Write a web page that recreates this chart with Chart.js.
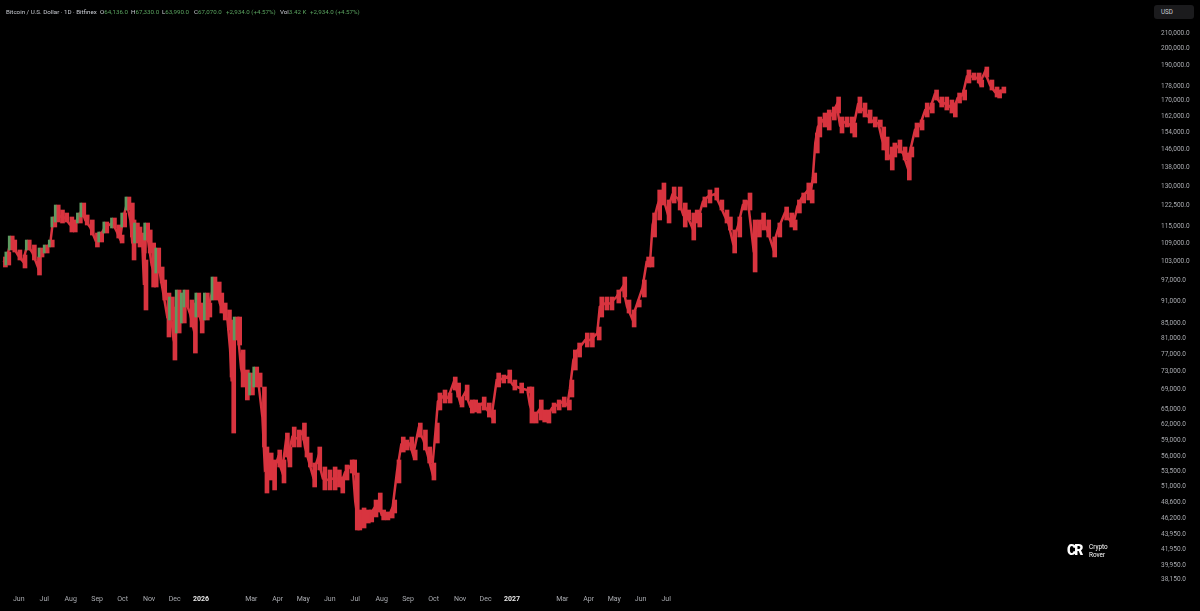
<!DOCTYPE html>
<html>
<head>
<meta charset="utf-8">
<script src="https://cdn.jsdelivr.net/npm/chart.js@4"></script>
<style>
  html, body { margin:0; padding:0; background:#000; }
  #wrap { position:relative; width:1200px; height:611px; background:#000; overflow:hidden; }
  #wrap canvas { position:absolute; left:0; top:0; }
  .hd { position:absolute; top:8px; font-family:Roboto, "Liberation Sans", sans-serif; font-size:6.2px; color:#c9ccd3; white-space:nowrap; }
  .hd b { font-weight:normal; color:#5aa35f; }
  #usd { position:absolute; left:1154px; top:5px; width:40px; height:14px; background:#1b1b1d; border-radius:3px;
         font-family:Roboto, sans-serif; font-size:6.3px; color:#c9ccd3; line-height:14px; text-indent:7px; }
  #logo { position:absolute; left:1067px; top:542px; color:#fff; font-family:Roboto, sans-serif; }
  #logo .ic { position:absolute; left:0; top:0; font-weight:900; font-size:14px; letter-spacing:-2px; line-height:16px; }
  #logo .tx { position:absolute; left:22px; top:1px; font-size:6.4px; line-height:8px; }
</style>
</head>
<body>
<div id="wrap">
  <canvas id="myChart"></canvas>
  <div class="hd" style="left:6px">Bitcoin / U.S. Dollar · 1D · Bitfinex</div>
  <div class="hd" style="left:100px">O<b>64,136.0</b></div>
  <div class="hd" style="left:131px">H<b>67,330.0</b></div>
  <div class="hd" style="left:162px">L<b>63,990.0</b></div>
  <div class="hd" style="left:194px">C<b>67,070.0</b></div>
  <div class="hd" style="left:226px"><b>+2,934.0 (+4.57%)</b></div>
  <div class="hd" style="left:280px">Vol<b>3.42 K</b></div>
  <div class="hd" style="left:310px"><b>+2,934.0 (+4.57%)</b></div>
  <div id="usd">USD</div>
  <div id="logo"><div class="ic">CR</div><div class="tx">Crypto<br>Rover</div></div>
</div>
<script>
(()=>{
    // days counted from 2026-01-01 (negative = 2025)
    const days = [-232,-228,-224,-221,-215,-209,-204,-198,-192,-189,-183,-177,-174,-170,-165,-160,-154,-150,-144,-140,
        -136,-130,-124,-119,-113,-104,-99,-95,-92,-87,-83,-81,-77,-74,-69,-67,-65,-62,-58,-55,
        -52,-48,-45,-40,-36,-33,-28,-22,-19,-13,-9,-5,-1,5,8,14,19,22,26,31,
        34,36,40,43,47,52,58,63,67,72,75,80,84,90,95,99,102,107,113,119,
        122,126,131,137,143,149,155,160,164,169,175,178,181,184,189,194,198,203,208,212,
        217,222,225,230,235,239,245,249,255,261,266,271,275,278,284,290,296,300,304,310,
        316,320,324,330,336,341,347,353,360,366,374,383,386,391,397,401,406,412,418,424,
        430,433,437,442,451,457,465,468,474,480,488,495,500,506,512,518,523,527,530,536,
        541,547,553,560,566,570,576,580,583,589,595,603,609,615,619,624,630,636,642,648,
        653,658,664,671,677,685,691,695,700,705,711,715,718,721,724,730,735,741,746,750,
        756,762,765,771,777,783,789,795,799,803,809,812,818,824,829,832,838,844,850,856,
        861,867,873,879,883,888,894,899,905,911,914,920,926,932,935,940];

    // highs / lows in thousands of USD
    const highsK = [104.43,106.07,111.49,110.11,106.74,105.08,110.11,108.41,104.43,107.40,108.41,110.11,118.31,122.81,120.91,119.79,118.31,117.21,119.79,123.58,
        119.05,117.21,112.54,112.90,116.48,117.94,115.39,111.84,119.79,125.92,123.58,117.21,116.11,114.67,112.54,103.46,116.11,113.61,109.09,103.46,
        107.40,101.22,97.20,93.33,92.18,89.35,94.21,93.33,94.21,91.32,90.47,93.33,90.47,93.33,90.47,98.11,96.59,93.33,90.47,88.52,
        85.80,83.17,86.60,86.60,78.14,73.41,72.72,74.10,72.72,69.62,57.74,56.67,55.45,57.20,55.45,60.31,57.74,61.45,60.88,62.22,
        59.56,56.67,54.93,57.74,54.25,53.75,54.25,53.75,52.58,54.59,55.45,55.45,53.24,47.44,47.74,47.44,47.44,48.94,50.02,47.44,
        47.15,47.44,48.94,55.45,59.56,59.01,59.56,57.20,62.22,60.88,57.74,54.93,62.22,68.33,68.97,68.33,71.82,70.49,67.48,70.05,
        66.86,66.86,66.23,67.48,66.23,64.80,72.72,72.27,73.41,71.15,70.49,69.62,69.62,64.40,66.86,64.80,64.80,66.23,66.86,67.48,
        66.86,71.15,78.14,79.86,82.39,82.39,83.95,92.18,92.18,92.18,94.21,98.11,91.32,88.52,91.32,97.20,104.43,104.43,119.79,128.70,
        131.54,124.75,129.91,129.91,123.58,120.91,119.79,120.91,119.79,125.92,128.70,129.51,124.75,120.91,118.31,113.61,118.31,124.75,127.50,117.21,
        117.21,119.79,117.21,111.15,116.11,122.05,119.79,117.21,124.75,127.50,131.54,128.70,135.70,153.73,161.61,163.63,165.17,166.72,172.00,161.61,
        161.61,161.61,158.60,172.00,168.81,165.17,161.61,160.10,156.64,151.83,147.17,149.01,150.42,147.17,144.44,147.17,158.60,160.10,168.81,168.81,
        175.80,172.00,172.00,170.40,168.81,174.16,175.80,187.12,185.37,185.37,181.37,188.87,181.37,177.45,175.80,177.45];

    const lowsK = [101.22,101.85,106.74,106.07,103.46,100.91,106.74,103.46,98.72,104.43,105.74,107.74,114.67,116.48,116.11,116.48,112.90,112.90,116.11,118.31,
        115.39,111.84,107.74,109.43,112.54,114.32,110.80,109.09,114.67,120.91,111.15,103.46,109.09,107.74,105.74,88.52,110.11,105.74,95.10,95.10,
        99.34,96.29,91.32,81.37,85.80,75.73,82.39,85.00,89.35,83.95,77.40,86.60,82.39,85.80,86.60,91.32,91.32,87.69,85.80,83.17,
        71.82,60.31,80.61,79.36,69.62,66.86,67.91,69.62,69.62,57.74,50.02,52.09,50.50,54.25,51.61,55.97,54.25,57.74,57.74,59.01,
        55.97,54.25,50.97,53.75,50.50,50.50,50.50,50.97,50.02,52.09,53.24,52.91,44.57,44.57,44.85,45.55,45.70,46.42,47.15,45.99,
        45.99,46.27,47.00,51.61,56.84,57.20,57.20,55.45,59.56,57.20,54.93,52.09,58.46,64.80,66.23,66.23,68.97,67.48,65.41,66.86,
        64.19,64.40,64.19,64.80,63.39,62.22,69.62,70.49,70.49,68.97,68.33,68.33,62.22,62.22,62.81,62.42,62.22,64.19,64.80,65.41,
        64.80,67.48,73.41,76.44,78.87,78.87,80.61,86.60,88.52,88.52,90.47,92.18,87.69,83.95,89.35,92.18,101.22,101.22,111.15,117.21,
        122.81,116.11,123.58,120.91,114.67,117.21,110.11,116.11,114.67,122.05,123.58,124.75,120.91,116.11,113.61,105.74,111.15,120.91,120.91,99.66,
        111.15,113.61,111.15,104.43,111.15,117.21,114.67,113.61,119.79,123.58,124.75,123.58,131.54,144.44,151.83,156.64,155.18,160.10,163.63,153.73,
        156.64,153.73,151.83,163.63,161.61,158.60,156.64,156.64,145.80,141.33,136.98,142.65,144.44,141.33,132.77,142.65,151.83,155.18,161.61,163.63,
        170.40,166.72,165.17,163.63,161.61,168.81,170.40,179.68,181.37,179.68,177.45,183.07,175.80,172.00,171.47,174.16];

    const yTicks = [210000,200000,190000,178000,170000,162000,154000,146000,138000,130000,122500,115000,109000,103000,97000,91000,
        85000,81000,77000,73000,69000,65000,62000,59000,56000,53500,51000,48600,46200,43950,41950,39950,38150];

    const xTickDays = [-214,-184,-153,-122,-92,-61,-31,0,59,90,120,151,181,212,243,273,304,334,365,424,455,485,516,546];
    const xTickLabels = ['Jun','Jul','Aug','Sep','Oct','Nov','Dec','2026','Mar','Apr','May','Jun','Jul','Aug','Sep','Oct','Nov','Dec','2027','Mar','Apr','May','Jun','Jul'];

    const RED = '#d8343f';
    const GREEN = '#5e9a60';
    const X_MIN = -236, X_MAX = 1108;

    const ranges = days.map((d, i) => ({x: d, y: [lowsK[i] * 1000, highsK[i] * 1000]}));
    const mids = days.map((d, i) => ({x: d, y: Math.sqrt(lowsK[i] * highsK[i]) * 1000}));
    // green strands over the older part where price rose
    const upRanges = ranges.filter((r, i) => i > 0 && r.x < 70 && mids[i].y > mids[i - 1].y);

    const ctx = document.getElementById('myChart').getContext('2d');

    new Chart(ctx, {
        data: {
            datasets: [{
                type: 'bar',
                xAxisID: 'x2',
                data: upRanges,
                backgroundColor: GREEN,
                borderWidth: 0,
                barThickness: 2,
                order: 0
            }, {
                type: 'bar',
                data: ranges,
                backgroundColor: RED,
                borderWidth: 0,
                barThickness: 4,
                order: 1
            }, {
                type: 'line',
                data: mids,
                borderColor: RED,
                borderWidth: 2.5,
                pointRadius: 0,
                tension: 0,
                order: 2
            }]
        },
        options: {
            responsive: true,
            maintainAspectRatio: false,
            animation: false,
            events: [],
            layout: { padding: 0 },
            plugins: { legend: { display: false }, tooltip: { enabled: false } },
            scales: {
                x: {
                    type: 'linear',
                    min: X_MIN,
                    max: X_MAX,
                    offset: false,
                    grid: { display: false, drawTicks: false },
                    border: { display: false },
                    afterFit: (scale) => { scale.height = 23; },
                    afterBuildTicks: (scale) => { scale.ticks = xTickDays.map(v => ({value: v})); },
                    ticks: {
                        autoSkip: false,
                        maxRotation: 0,
                        padding: 7,
                        callback: (value, index) => xTickLabels[index],
                        color: (c) => /^20/.test(xTickLabels[c.index]) ? '#e6e6e6' : '#a9abb0',
                        font: (c) => /^20/.test(xTickLabels[c.index])
                            ? {family: 'Roboto', size: 7, weight: 'bold'}
                            : {family: 'Roboto', size: 7}
                    }
                },
                x2: {
                    type: 'linear',
                    display: false,
                    min: X_MIN,
                    max: X_MAX,
                    offset: false
                },
                y: {
                    type: 'logarithmic',
                    position: 'right',
                    min: 37195,
                    max: 232770,
                    grid: { display: false, drawTicks: false },
                    border: { display: false },
                    afterFit: (scale) => { scale.width = 55; scale.paddingTop = 0; scale.paddingBottom = 0; },
                    afterBuildTicks: (scale) => { scale.ticks = yTicks.map(v => ({value: v})); },
                    ticks: {
                        crossAlign: 'near',
                        padding: 16,
                        color: '#a9abb0',
                        font: {family: 'Roboto', size: 6.5},
                        callback: (v) => Number(v).toLocaleString('en-US', {minimumFractionDigits: 1, maximumFractionDigits: 1})
                    }
                }
            }
        }
    });
})()
</script>
</body>
</html>
